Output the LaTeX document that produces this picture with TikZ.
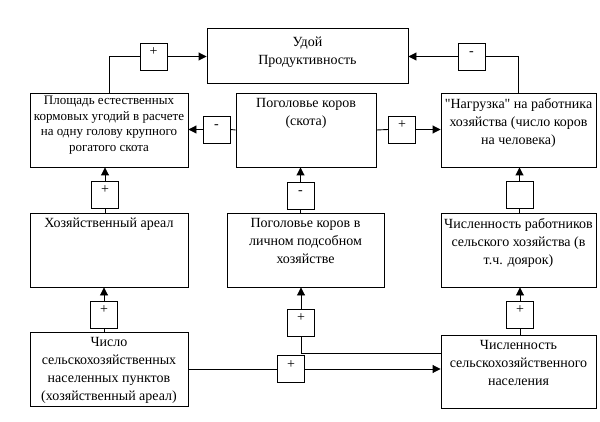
\documentclass[tikz,border=0pt]{standalone}
\usepackage{fontspec}
\setmainfont{Liberation Serif}
\usetikzlibrary{arrows.meta,calc}
\newcommand{\sq}{\XeTeXglyph\XeTeXcharglyph"22\relax}
\begin{document}
\begin{tikzpicture}[x=1pt,y=-1pt,
  line width=0.9pt,
  box/.style={draw, inner sep=0pt},
  txt/.style={font=\fontsize{14}{18}\selectfont, align=center, anchor=north, inner sep=0pt, yshift=-5pt},
  stxt/.style={font=\fontsize{13}{15.5}\selectfont, align=center, anchor=north, inner sep=0pt, yshift=-3pt},
  sign/.style={draw, minimum size=27pt, inner sep=0pt, font=\fontsize{14}{16}\selectfont, text height=8pt, text depth=10pt},
  arr/.style={-{Triangle[length=8pt,width=8pt]}}]
\useasboundingbox (0,0) rectangle (600,422);
\fill[white] (0,0) rectangle (600,422);
% boxes
\node[box, minimum width=201pt, minimum height=55pt] (udoy) at (307.5,55.5) {};
\node[box, minimum width=158pt, minimum height=74pt] (pl) at (109,130) {};
\node[box, minimum width=140pt, minimum height=74pt] (pog) at (306,130) {};
\node[box, minimum width=155pt, minimum height=74pt] (nag) at (518.5,130) {};
\node[box, minimum width=158pt, minimum height=74pt] (har) at (109,250) {};
\node[box, minimum width=157pt, minimum height=74pt] (lph) at (305.5,250) {};
\node[box, minimum width=155pt, minimum height=74pt] (rab) at (518.5,250) {};
\node[box, minimum width=158pt, minimum height=74pt] (chis) at (109,369) {};
\node[box, minimum width=155pt, minimum height=73pt] (nas) at (518.5,371.5) {};
% texts
\node[txt, yshift=-4pt] (tudoy) at (udoy.north) {Удой\\Продуктивность};
\node[stxt] (tpl) at (pl.north) {Площадь естественных\\кормовых угодий в расчете\\на одну голову крупного\\рогатого скота};
\node[txt] (tpog) at (pog.north) {Поголовье коров\\(скота)};
\node[txt] (tnag) at (nag.north) {\sq Нагрузка\sq{} на работника\\хозяйства (число коров\\на человека)};
\node[txt] (thar) at (har.north) {Хозяйственный ареал};
\node[txt] (tlph) at (lph.north) {Поголовье коров в\\личном подсобном\\хозяйстве};
\node[txt] (trab) at (rab.north) {Численность работников\\сельского хозяйства (в\\т.ч. доярок)};
\node[txt] (tchis) at (chis.north) {Число\\сельскохозяйственных\\населенных пунктов\\(хозяйственный ареал)};
\node[txt] (tnas) at (nas.north) {Численность\\сельскохозяйственного\\населения};
% signs
\node[sign] (s1) at (153.5,56.5) {+};
\node[sign] (s2) at (471.5,56.5) {-};
\node[sign] (s3) at (216.5,129.5) {-};
\node[sign] (s4) at (402,129.5) {+};
\node[sign] (s5) at (105,195) {+};
\node[sign] (s6) at (300.5,195.5) {-};
\node[sign] (s7) at (519.5,194.5) {};
\node[sign] (s8) at (104,314.5) {+};
\node[sign] (s9) at (301,322.5) {+};
\node[sign] (s10) at (291,369) {+};
\node[sign] (s11) at (520,314.5) {+};
% connectors
\draw (pl.north) |- (s1.west);
\draw[arr] (s1.east) -- (s1.east -| udoy.west);
\draw (nag.north) |- (s2.east);
\draw[arr] (s2.west) -- (s2.west -| udoy.east);
\draw (pog.west) -- (s3.east);
\draw[arr] (s3.west) -- (s3.west -| pl.east);
\draw (pog.east) -- (s4.west);
\draw[arr] (s4.east) -- (s4.east -| nag.west);
\draw (s5.south) -- (s5.south |- har.north);
\draw[arr] (s5.north) -- (s5.north |- pl.south);
\draw (s6.south) -- (s6.south |- lph.north);
\draw[arr] (s6.north) -- (s6.north |- pog.south);
\draw (s7.south) -- (s7.south |- rab.north);
\draw[arr] (s7.north) -- (s7.north |- nag.south);
\draw (s8.south) -- (s8.south |- chis.north);
\draw[arr] (s8.north) -- (s8.north |- har.south);
\draw ($(nas.north west)!0.25!(nas.south west)$) -| (s9.south);
\draw[arr] (s9.north) -- (s9.north |- lph.south);
\draw (chis.east) -- (s10.west);
\draw[arr] (s10.east) -- (s10.east -| nas.west);
\draw (s11.south) -- (s11.south |- nas.north);
\draw[arr] (s11.north) -- (s11.north |- rab.south);
\end{tikzpicture}
\end{document}
